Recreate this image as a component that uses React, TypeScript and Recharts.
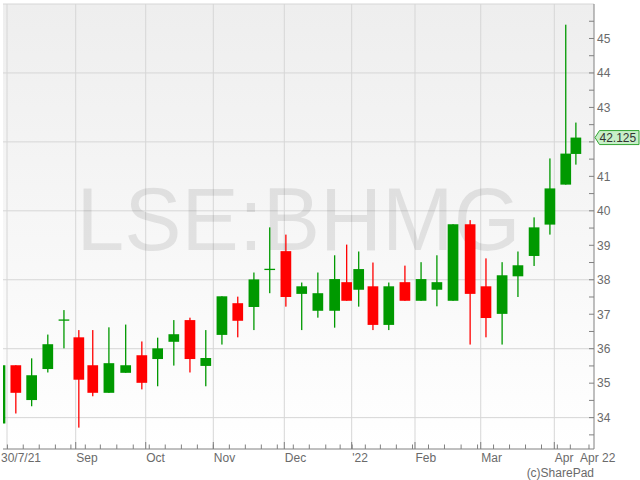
import React from 'react';
import { ComposedChart, Bar, XAxis, YAxis, CartesianGrid, ReferenceArea, ReferenceDot } from 'recharts';

// Position of each weekly candle, in trading days after 30/7/21
const tradingDays = [0, 5.0, 10.0, 15.1, 20.2, 24.9, 29.3, 34.4, 39.7, 44.8, 49.8, 54.9, 60.0, 65.0, 70.1, 75.1, 80.2, 85.2, 90.3, 95.3, 100.4, 105.7, 109.5, 113.3, 117.8, 122.8, 127.9, 133.0, 138.0, 143.1, 148.5, 153.5, 158.6, 163.6, 168.7, 173.7, 178.7, 181.9];
const opens = [33.83, 35.52, 34.51, 35.41, 36.83, 36.33, 35.52, 34.72, 35.30, 35.81, 35.70, 36.20, 36.83, 35.50, 36.40, 37.32, 37.21, 38.30, 38.83, 37.59, 37.10, 37.10, 37.93, 37.71, 37.81, 36.69, 37.93, 37.39, 37.71, 37.39, 39.61, 37.81, 37.01, 38.10, 38.69, 39.60, 40.76, 41.65];
const highs = [35.60, 35.52, 35.72, 36.41, 37.12, 36.54, 36.54, 36.62, 36.70, 36.21, 36.32, 36.83, 36.90, 36.54, 37.52, 37.51, 38.21, 39.52, 39.31, 37.92, 38.21, 38.71, 39.02, 38.82, 38.50, 37.92, 38.41, 38.51, 38.71, 39.61, 39.73, 38.62, 38.51, 38.82, 39.81, 41.52, 45.40, 42.56];
const lows = [33.80, 34.12, 34.33, 35.31, 36.01, 33.71, 34.62, 34.72, 35.30, 34.82, 34.91, 35.51, 35.31, 34.91, 36.12, 36.33, 36.54, 37.61, 37.22, 36.54, 36.90, 36.61, 37.39, 37.22, 36.54, 36.54, 37.39, 37.39, 37.23, 37.39, 36.12, 36.33, 36.12, 37.50, 38.40, 39.31, 40.76, 41.34];
const closes = [35.52, 34.72, 35.23, 36.13, 36.83, 35.10, 34.72, 35.58, 35.52, 35.01, 36.01, 36.42, 35.70, 35.73, 37.52, 36.81, 38.01, 38.30, 37.50, 37.81, 37.61, 38.02, 37.39, 38.31, 36.69, 37.81, 37.39, 38.02, 37.93, 39.61, 37.59, 36.89, 38.13, 38.42, 39.52, 40.65, 41.66, 42.125];

const gridDays = [2.37, 24.07, 46.18, 67.53, 89.96, 111.24, 131.24, 152.0, 175.24];
const gridLabels = ['30/7/21', 'Sep', 'Oct', 'Nov', 'Dec', "'22", 'Feb', 'Mar', 'Apr'];
const endLabelDay = 183.35;
const endLabel = 'Apr 22';
const lastTickDay = 186.2;
const yTicks = [33.5, 34, 34.5, 35, 35.5, 36, 36.5, 37, 37.5, 38, 38.5, 39, 39.5, 40, 40.5, 41, 41.5, 42, 42.5, 43, 43.5, 44, 44.5, 45, 45.5];
// 42 is hidden under the last-price tag in the reference
const yLabels = [34, 35, 36, 37, 38, 39, 40, 41, 43, 44, 45];
const yGrid = [34, 36, 38, 40, 42, 44, 46];
const ticker = 'LSE:BHMG';
const copyright = '(c)SharePad';
const lastPrice = 42.125;
const X_DOMAIN: [number, number] = [1.105, 187.78];
const Y_DOMAIN: [number, number] = [33.09, 46];

const GREEN = '#009900';
const RED = '#ff0000';
const AXIS = '#808080';
const TEXT = '#6a6a6a';
const FONT = '"Liberation Sans", Arial, sans-serif';

const data = tradingDays.map((t, i) => ({
  t,
  range: [lows[i], highs[i]],
  open: opens[i],
  high: highs[i],
  low: lows[i],
  close: closes[i],
}));

const minorTicks = tradingDays.slice(1).map((t, i) => (t + tradingDays[i]) / 2).concat([lastTickDay]);
const xTicks = [...minorTicks, ...gridDays, endLabelDay].sort((a, b) => a - b);

const Candle = (props: any) => {
  let { x, y, width, height } = props;
  if (height < 0) { y += height; height = -height; }
  const p = props.payload ?? props;
  const { open, close, high, low } = p;
  const cx = x + width / 2;
  const span = high - low;
  const toY = (v: number) => y + ((high - v) / span) * height;
  const up = close >= open;
  const color = up ? GREEN : RED;
  const top = toY(Math.max(open, close));
  const bot = toY(Math.min(open, close));
  const bw = 10.7;
  return (
    <g>
      <rect x={cx - 0.65} y={y} width={1.3} height={height} fill={color} />
      {bot - top < 1 ? (
        <rect x={cx - bw / 2} y={top - 0.65} width={bw} height={1.3} fill={color} />
      ) : (
        <rect x={cx - bw / 2} y={top} width={bw} height={bot - top} fill={color} />
      )}
    </g>
  );
};

const XTick = (props: any) => {
  const { x, y, payload } = props;
  const v = payload.value;
  if (v === endLabelDay) {
    return (
      <text x={x} y={y + 13} fontSize={12} fill={TEXT} fontFamily={FONT}>{endLabel}</text>
    );
  }
  const gi = gridDays.indexOf(v);
  if (gi >= 0) {
    return (
      <g>
        {gi > 0 && <line x1={x} x2={x} y1={y} y2={y - 7} stroke={AXIS} />}
        <text x={x + (gi === 0 ? -6 : 0.5)} y={y + 13} fontSize={12} fill={TEXT} fontFamily={FONT}>{gridLabels[gi]}</text>
      </g>
    );
  }
  return <line x1={x} x2={x} y1={y} y2={y - 4.5} stroke={AXIS} />;
};

const YTick = (props: any) => {
  const { x, y, payload } = props;
  const v = payload.value;
  const labelled = yLabels.includes(v);
  return (
    <g>
      <line x1={x - 5} x2={x} y1={y} y2={y} stroke={AXIS} />
      {labelled && (
        <text x={x + 3} y={y + 4.3} fontSize={12} fill={TEXT} fontFamily={FONT}>{v}</text>
      )}
    </g>
  );
};

const Watermark = (props: any) => {
  const { x, y, width, height } = props;
  return (
    <g>
      <defs>
        <linearGradient id="bgGrad" x1="0" y1="0" x2="0" y2="1">
          <stop offset="0" stopColor="#eeeeee" />
          <stop offset="1" stopColor="#ffffff" />
        </linearGradient>
      </defs>
      <text
        x={x + width / 2}
        y={y + height / 2 + 23.5}
        textAnchor="middle"
        fontSize={89}
        textLength={444}
        lengthAdjust="spacingAndGlyphs"
        fill="#000000"
        fillOpacity={0.085}
        fontFamily={FONT}
      >
        {ticker}
      </text>
    </g>
  );
};

const PriceTag = (props: any) => {
  const { cx, cy } = props;
  const pts = `${cx + 1},${cy} ${cx + 5.5},${cy - 7} ${cx + 45},${cy - 7} ${cx + 45},${cy + 7} ${cx + 5.5},${cy + 7}`;
  return (
    <g>
      <polygon points={pts} fill="#c8efc8" stroke="#33a533" strokeWidth={1} />
      <text x={cx + 5.5} y={cy + 4.3} fontSize={12} fill="#333333" fontFamily={FONT}>{lastPrice}</text>
    </g>
  );
};

const CopyLabel = (props: any) => {
  const vb = props.viewBox || {};
  return (
    <text x={vb.x + vb.width} y={vb.y + 27.5} textAnchor="end" fontSize={12} fill={TEXT} fontFamily={FONT}>
      {copyright}
    </text>
  );
};

export default function App() {
  return (
    <div style={{ position: 'absolute', left: 0, top: 0, background: '#fff' }}>
      <ComposedChart
        width={640}
        height={480}
        data={data}
        margin={{ top: 4, right: 0, bottom: 0, left: 3 }}
        style={{ fontFamily: FONT }}
      >
        <CartesianGrid
          horizontalValues={yGrid}
          verticalValues={gridDays}
          stroke="#d6d6d6"
          fill="url(#bgGrad)"
          fillOpacity={1}
        />
        <ReferenceArea
          x1={X_DOMAIN[0]}
          x2={X_DOMAIN[1]}
          y1={Y_DOMAIN[0]}
          y2={Y_DOMAIN[1]}
          shape={Watermark}
          ifOverflow="visible"
          zIndex={-50}
        />
        <XAxis
          dataKey="t"
          type="number"
          domain={X_DOMAIN}
          allowDataOverflow
          ticks={xTicks}
          interval={0}
          tick={XTick}
          tickLine={false}
          tickSize={0}
          tickMargin={0}
          height={31}
          axisLine={{ stroke: AXIS }}
          label={<CopyLabel />}
        />
        <XAxis
          xAxisId="top"
          orientation="top"
          type="number"
          domain={X_DOMAIN}
          allowDataOverflow
          height={0}
          tick={false}
          tickLine={false}
          axisLine={{ stroke: '#999999' }}
        />
        <YAxis
          orientation="right"
          type="number"
          domain={Y_DOMAIN}
          allowDataOverflow
          ticks={yTicks}
          interval={0}
          tick={YTick}
          tickLine={false}
          tickSize={0}
          tickMargin={0}
          width={46}
          axisLine={{ stroke: AXIS }}
        />
        <YAxis
          yAxisId="left"
          orientation="left"
          type="number"
          domain={Y_DOMAIN}
          width={0}
          tick={false}
          tickLine={false}
          axisLine={{ stroke: AXIS }}
        />
        <Bar dataKey="range" shape={Candle} isAnimationActive={false} barSize={11} />
        <ReferenceDot x={X_DOMAIN[1]} y={lastPrice} ifOverflow="visible" shape={PriceTag} r={1} />
      </ComposedChart>
    </div>
  );
}
